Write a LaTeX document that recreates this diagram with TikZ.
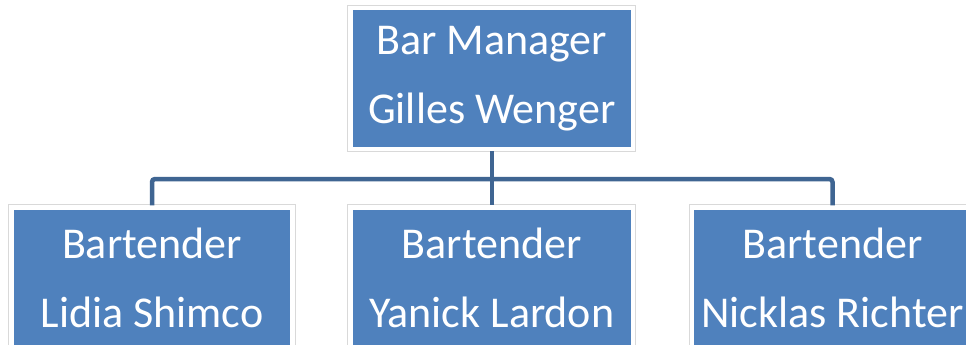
\documentclass[tikz,border=0pt]{standalone}
\usepackage{fontspec}
\setmainfont{Carlito}
\definecolor{boxblue}{HTML}{4F81BD}
\definecolor{linkblue}{HTML}{3F6592}
\begin{document}
\begin{tikzpicture}[x=1pt,y=-1pt,
  orgbox/.style={rectangle, inner sep=0pt, fill=boxblue, draw=white, line width=4.5pt,
    preaction={draw=black!15, line width=6.5pt},
    text=white, align=center, font=\fontsize{44}{69}\selectfont},
  topbox/.style={orgbox, minimum width=282.5pt, minimum height=141pt},
  botbox/.style={orgbox, minimum width=281pt, minimum height=141pt},
  conn/.style={draw=linkblue, line width=4.5pt, rounded corners=3pt}]
\useasboundingbox (0,0) rectangle (966,345);
\clip (0,0) rectangle (966,345);
\fill[white] (0,0) rectangle (966,345);
\node[topbox] (top) at (491.75,78.5) {Bar Manager\\Gilles Wenger};
\node[botbox] (l) at (152,278) {Bartender\\Lidia Shimco};
\node[botbox, minimum width=282.5pt] (m) at (491.75,278) {Bartender\\Yanick Lardon};
\node[botbox] (r) at (832.5,278) {Bartender\\Nicklas Richter};
\coordinate (bus) at (492.5,179);
\draw[conn] (top.south) -- (m.north);
\draw[conn] (l.north) |- (bus) -| (r.north);
\end{tikzpicture}
\end{document}
